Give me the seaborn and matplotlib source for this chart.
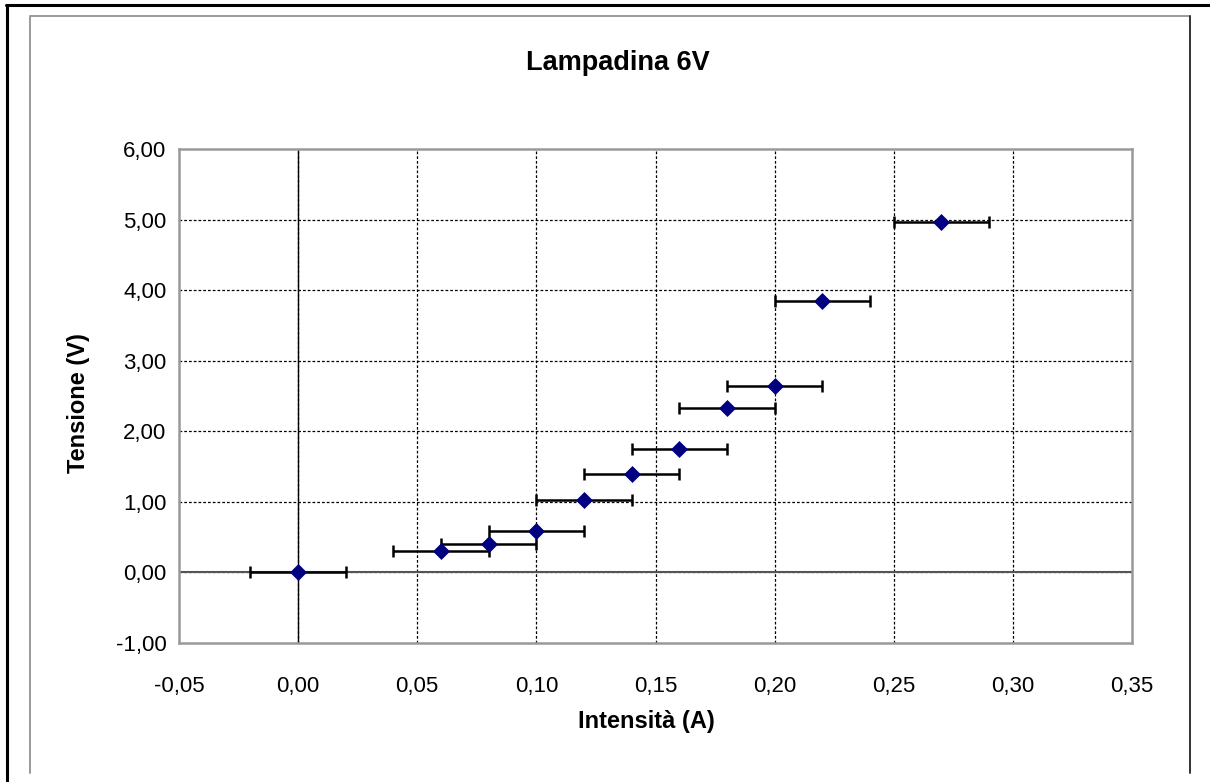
import matplotlib
matplotlib.use("Agg")
import matplotlib.pyplot as plt
import matplotlib.ticker as mticker
from matplotlib.lines import Line2D
import seaborn as sns
import pandas as pd

# measured data: current (A) vs voltage (V), +/- 0.02 A on current
intensita = [0.00, 0.06, 0.08, 0.10, 0.12, 0.14, 0.16, 0.18, 0.20, 0.22, 0.27]
tensione = [0.00, 0.30, 0.40, 0.58, 1.02, 1.39, 1.75, 2.33, 2.64, 3.85, 4.96]
err_intensita = [0.02] * len(intensita)

x_ticks = [-0.05, 0.00, 0.05, 0.10, 0.15, 0.20, 0.25, 0.30, 0.35]
y_ticks = [-1, 0, 1, 2, 3, 4, 5, 6]

df = pd.DataFrame({"Intensita": intensita, "Tensione": tensione, "err": err_intensita})

sns.set_style("white")
plt.rcParams["font.family"] = ["Liberation Sans", "DejaVu Sans"]
plt.rcParams["text.color"] = "black"
plt.rcParams["axes.labelcolor"] = "black"

W, H = 1210, 782
fig = plt.figure(figsize=(W / 100, H / 100), dpi=100)

def fx(px):
    return px / W

def fy(py):
    return 1 - py / H

# outer frame (black, top + left) and chart area frame (gray)
fig.add_artist(Line2D([fx(6), fx(1210)], [fy(5), fy(5)], color="black", lw=2.2))
fig.add_artist(Line2D([fx(7), fx(7)], [fy(5), fy(782)], color="black", lw=2.2))
fig.add_artist(Line2D([fx(30), fx(30), fx(1190)], [fy(773), fy(16), fy(16)], color="#9a9a9a", lw=1.4))
fig.add_artist(Line2D([fx(1190), fx(1190)], [fy(16), fy(773)], color="#333333", lw=1.4))

ax = fig.add_axes([fx(179), fy(643), fx(1132 - 179), (643 - 149) / H])

# gridlines
for xv in x_ticks[1:-1]:
    ax.axvline(xv, color="black", lw=0.9, ls=(0, (2.2, 1.6)), zorder=1)
for yv in y_ticks[1:-1]:
    ax.axhline(yv, color="black", lw=0.9, ls=(0, (2.2, 1.6)), zorder=1)

# zero axes
ax.axvline(0, color="black", lw=1.0, zorder=2)
ax.axhline(0, color="#555555", lw=1.5, zorder=2)

ax.errorbar(df["Intensita"], df["Tensione"], xerr=df["err"], fmt="none",
            ecolor="black", elinewidth=1.8, capsize=4, capthick=1.8, zorder=3)
sns.scatterplot(data=df, x="Intensita", y="Tensione", marker="D", s=75,
                color="#000080", edgecolor="#000080", linewidth=0, ax=ax, zorder=4)

ax.set_xlim(-0.05, 0.35)
ax.set_ylim(-1, 6)
ax.set_xticks(x_ticks)
ax.set_yticks(y_ticks)
fmt = mticker.FuncFormatter(lambda v, p: f"{v:.2f}".replace(".", ","))
ax.xaxis.set_major_formatter(fmt)
ax.yaxis.set_major_formatter(fmt)
ax.tick_params(axis="both", length=0, labelsize=16, colors="black")
ax.tick_params(axis="x", pad=24)
ax.tick_params(axis="y", pad=9)

for sp in ax.spines.values():
    sp.set_color("#999999")
    sp.set_linewidth(1.8)

ax.set_xlabel("Intensità (A)", fontsize=17, fontweight="bold")
ax.set_ylabel("Tensione (V)", fontsize=17, fontweight="bold")
ax.xaxis.set_label_coords(0.49, -0.135)
ax.yaxis.set_label_coords(-0.093, 0.485)
fig.text(fx(618), fy(63), "Lampadina 6V", fontsize=19.5, fontweight="bold",
         ha="center", va="center")

fig.savefig("out.png", dpi=100)
